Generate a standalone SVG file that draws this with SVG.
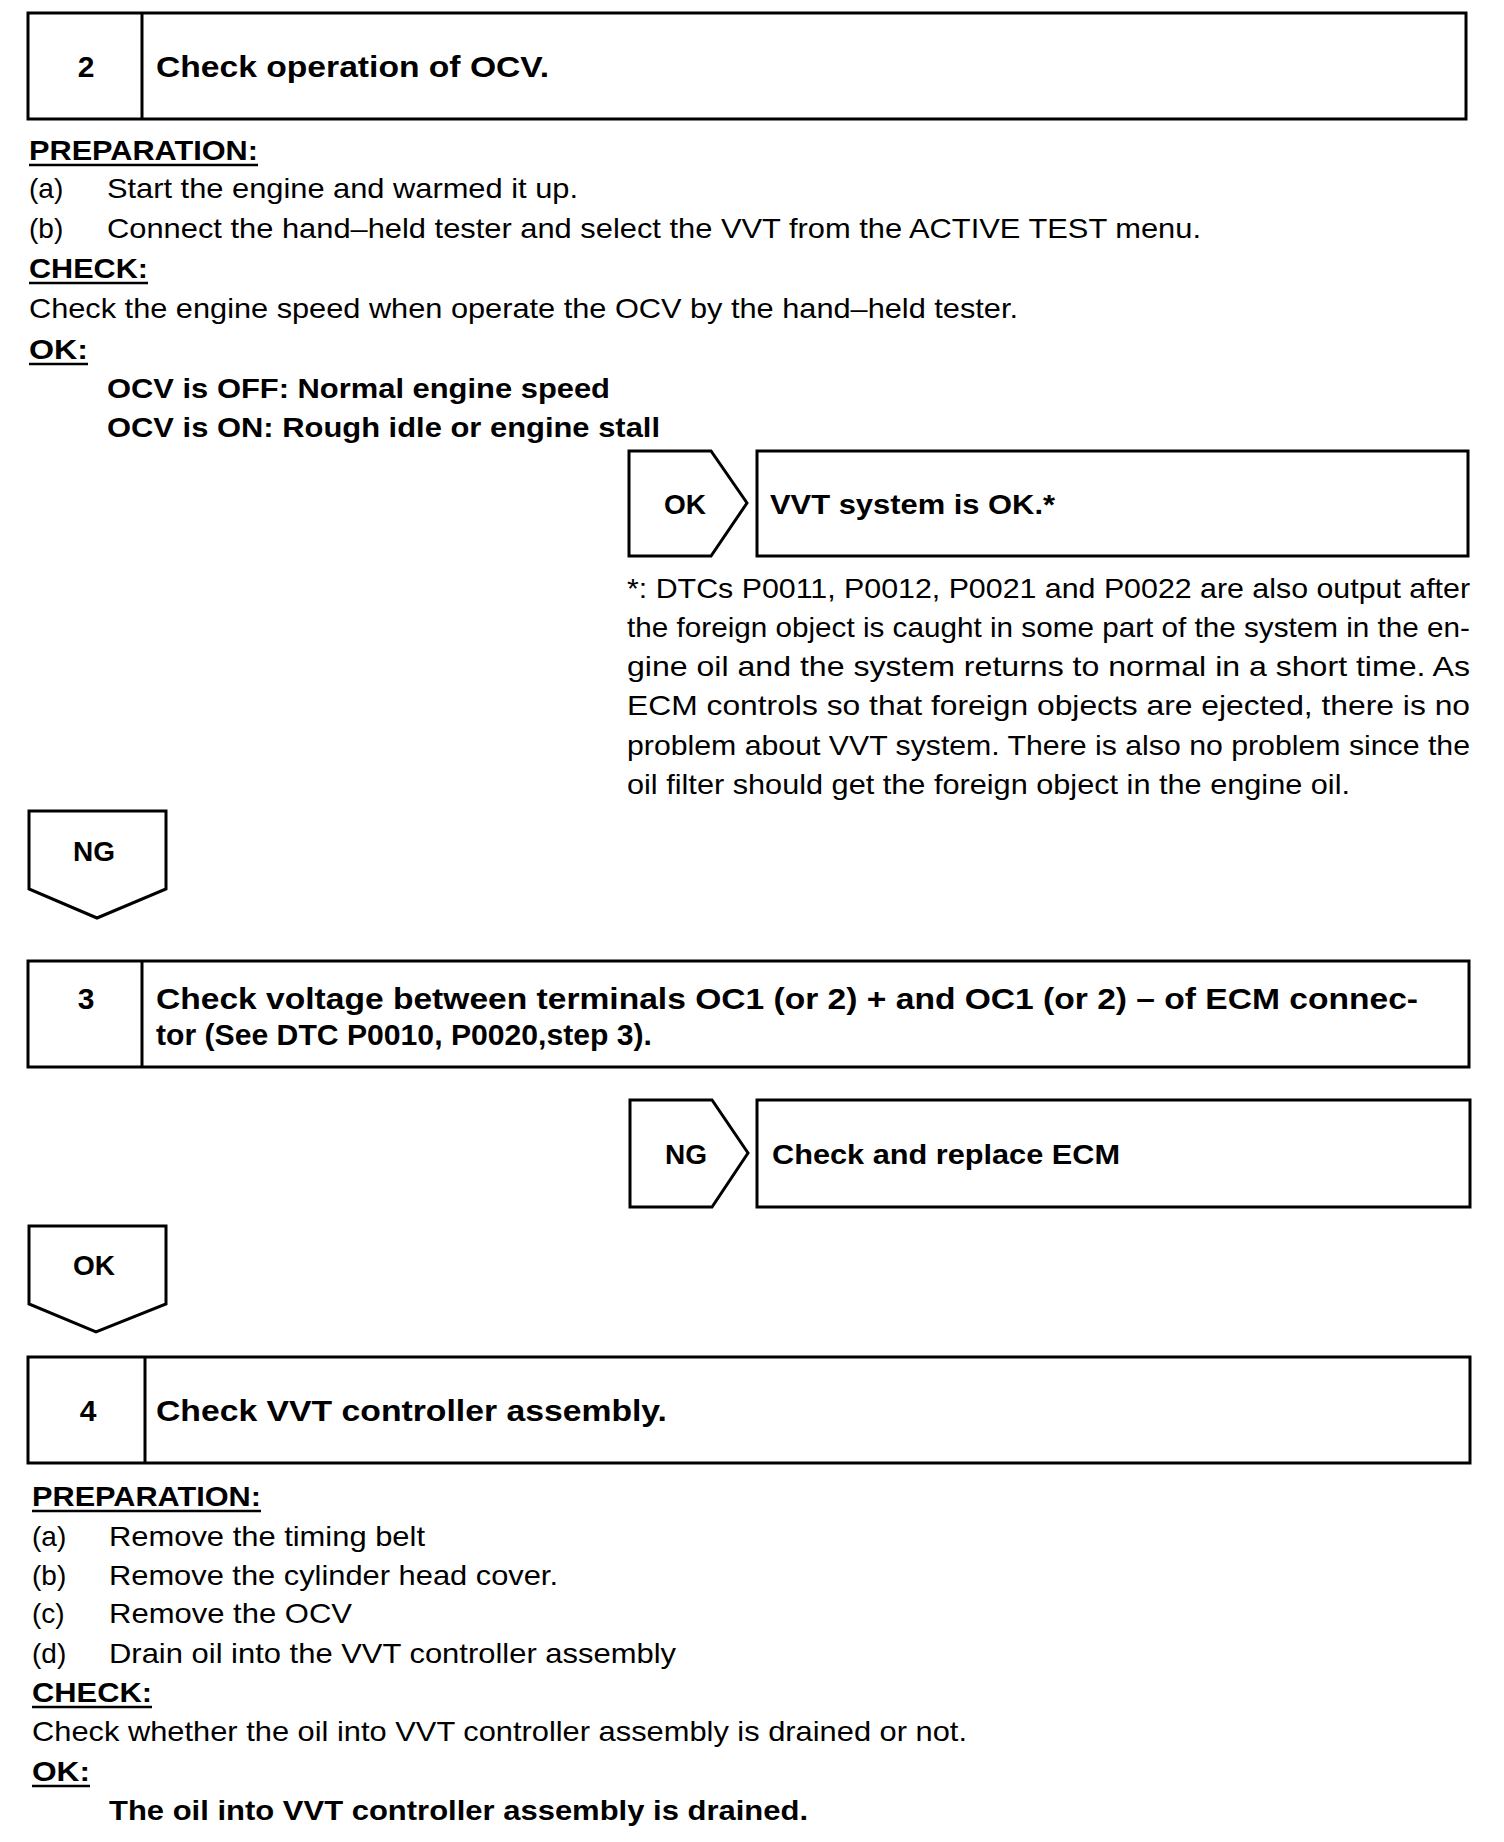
<svg xmlns="http://www.w3.org/2000/svg" width="1504" height="1842" viewBox="0 0 1504 1842">
<style>
.bx{fill:none;stroke:#000;stroke-width:3;stroke-linejoin:miter}
.t{font-family:"Liberation Sans",Arial,sans-serif;font-size:28px;fill:#000}
.b{font-family:"Liberation Sans",Arial,sans-serif;font-size:28px;font-weight:bold;fill:#000}
.h{font-family:"Liberation Sans",Arial,sans-serif;font-size:30px;font-weight:bold;fill:#000}
.c{text-anchor:middle}
.ul{stroke:#000;stroke-width:2.5}
</style>
<rect width="1504" height="1842" fill="#fff"/>

<g id="step2">
<rect class="bx" x="28" y="13" width="1438" height="106"/>
<line class="bx" x1="142" y1="13" x2="142" y2="119"/>
<text class="h c" x="86" y="77">2</text>
<text class="h" x="156" y="77" textLength="393" lengthAdjust="spacingAndGlyphs">Check operation of OCV.</text>
</g>

<g id="step2-text">
<text class="b" x="29" y="160" textLength="229" lengthAdjust="spacingAndGlyphs">PREPARATION:</text>
<line class="ul" x1="29" y1="165" x2="258" y2="165"/>
<text class="t" x="29" y="198">(a)</text>
<text class="t" x="107" y="198" textLength="471" lengthAdjust="spacingAndGlyphs">Start the engine and warmed it up.</text>
<text class="t" x="29" y="238">(b)</text>
<text class="t" x="107" y="238" textLength="1094" lengthAdjust="spacingAndGlyphs">Connect the hand–held tester and select the VVT from the ACTIVE TEST menu.</text>
<text class="b" x="29" y="278" textLength="119" lengthAdjust="spacingAndGlyphs">CHECK:</text>
<line class="ul" x1="29" y1="283" x2="148" y2="283"/>
<text class="t" x="29" y="318" textLength="989" lengthAdjust="spacingAndGlyphs">Check the engine speed when operate the OCV by the hand–held tester.</text>
<text class="b" x="29" y="359" textLength="59" lengthAdjust="spacingAndGlyphs">OK:</text>
<line class="ul" x1="29" y1="364" x2="88" y2="364"/>
<text class="b" x="107" y="398" textLength="503" lengthAdjust="spacingAndGlyphs">OCV is OFF: Normal engine speed</text>
<text class="b" x="107" y="437" textLength="553" lengthAdjust="spacingAndGlyphs">OCV is ON: Rough idle or engine stall</text>
</g>

<g id="ok1">
<polygon class="bx" points="629,451 711,451 747,503 711,556 629,556"/>
<text class="b c" x="685" y="514">OK</text>
</g>

<g id="result-vvt-ok">
<rect class="bx" x="757" y="451" width="711" height="105"/>
<text class="b" x="770" y="514" textLength="285" lengthAdjust="spacingAndGlyphs">VVT system is OK.*</text>
</g>

<g id="footnote">
<text class="t" x="627" y="598" textLength="843" lengthAdjust="spacingAndGlyphs">*: DTCs P0011, P0012, P0021 and P0022 are also output after</text>
<text class="t" x="627" y="637" textLength="843" lengthAdjust="spacingAndGlyphs">the foreign object is caught in some part of the system in the en-</text>
<text class="t" x="627" y="676" textLength="843" lengthAdjust="spacingAndGlyphs">gine oil and the system returns to normal in a short time. As</text>
<text class="t" x="627" y="715" textLength="843" lengthAdjust="spacingAndGlyphs">ECM controls so that foreign objects are ejected, there is no</text>
<text class="t" x="627" y="755" textLength="843" lengthAdjust="spacingAndGlyphs">problem about VVT system. There is also no problem since the</text>
<text class="t" x="627" y="794" textLength="723" lengthAdjust="spacingAndGlyphs">oil filter should get the foreign object in the engine oil.</text>
</g>

<g id="ng1">
<polygon class="bx" points="29,811 166,811 166,889 97,918 29,889"/>
<text class="b c" x="94" y="861">NG</text>
</g>

<g id="step3">
<rect class="bx" x="28" y="961" width="1441" height="106"/>
<line class="bx" x1="142" y1="961" x2="142" y2="1067"/>
<text class="h c" x="86" y="1009">3</text>
<text class="h" x="156" y="1009" textLength="1262" lengthAdjust="spacingAndGlyphs">Check voltage between terminals OC1 (or 2) + and OC1 (or 2) – of ECM connec-</text>
<text class="h" x="156" y="1045" textLength="496" lengthAdjust="spacingAndGlyphs">tor (See DTC P0010, P0020,step 3).</text>
</g>

<g id="ng2">
<polygon class="bx" points="630,1100 712,1100 748,1153 712,1207 630,1207"/>
<text class="b c" x="686" y="1164">NG</text>
</g>

<g id="result-ecm">
<rect class="bx" x="757" y="1100" width="713" height="107"/>
<text class="b" x="772" y="1164" textLength="348" lengthAdjust="spacingAndGlyphs">Check and replace ECM</text>
</g>

<g id="ok2">
<polygon class="bx" points="29,1226 166,1226 166,1304 96,1332 29,1304"/>
<text class="b c" x="94" y="1275">OK</text>
</g>

<g id="step4">
<rect class="bx" x="28" y="1357" width="1442" height="106"/>
<line class="bx" x1="145" y1="1357" x2="145" y2="1463"/>
<text class="h c" x="88" y="1421">4</text>
<text class="h" x="156" y="1421" textLength="511" lengthAdjust="spacingAndGlyphs">Check VVT controller assembly.</text>
</g>

<g id="step4-text">
<text class="b" x="32" y="1506" textLength="229" lengthAdjust="spacingAndGlyphs">PREPARATION:</text>
<line class="ul" x1="32" y1="1511" x2="261" y2="1511"/>
<text class="t" x="32" y="1546">(a)</text>
<text class="t" x="109" y="1546" textLength="316" lengthAdjust="spacingAndGlyphs">Remove the timing belt</text>
<text class="t" x="32" y="1585">(b)</text>
<text class="t" x="109" y="1585" textLength="449" lengthAdjust="spacingAndGlyphs">Remove the cylinder head cover.</text>
<text class="t" x="32" y="1623">(c)</text>
<text class="t" x="109" y="1623" textLength="243" lengthAdjust="spacingAndGlyphs">Remove the OCV</text>
<text class="t" x="32" y="1663">(d)</text>
<text class="t" x="109" y="1663" textLength="567" lengthAdjust="spacingAndGlyphs">Drain oil into the VVT controller assembly</text>
<text class="b" x="32" y="1702" textLength="120" lengthAdjust="spacingAndGlyphs">CHECK:</text>
<line class="ul" x1="32" y1="1707" x2="152" y2="1707"/>
<text class="t" x="32" y="1741" textLength="935" lengthAdjust="spacingAndGlyphs">Check whether the oil into VVT controller assembly is drained or not.</text>
<text class="b" x="32" y="1781" textLength="58" lengthAdjust="spacingAndGlyphs">OK:</text>
<line class="ul" x1="32" y1="1786" x2="90" y2="1786"/>
<text class="b" x="109" y="1820" textLength="699" lengthAdjust="spacingAndGlyphs">The oil into VVT controller assembly is drained.</text>
</g>

<g id="connectors"></g>
</svg>
